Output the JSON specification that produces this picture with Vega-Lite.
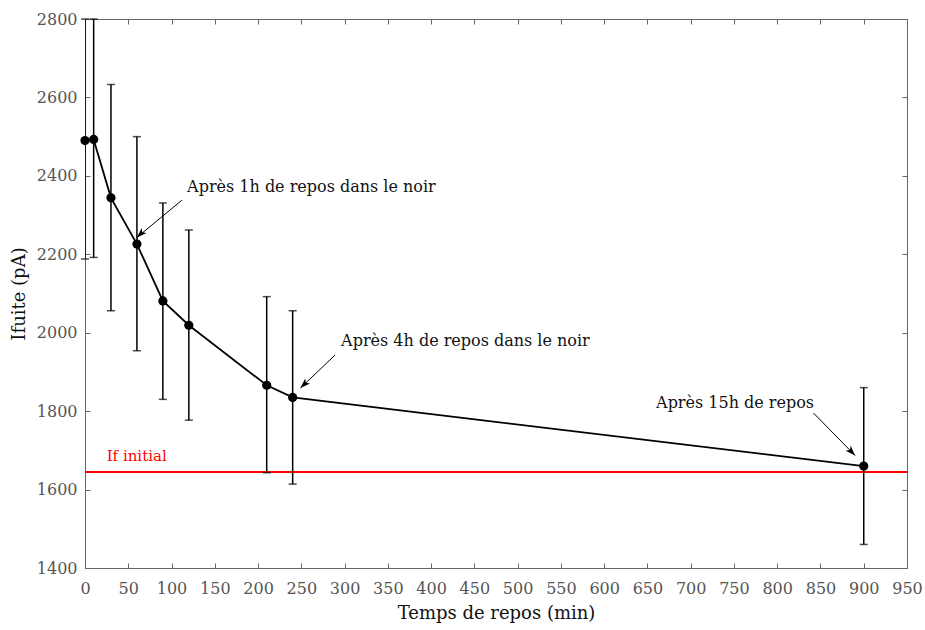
{
  "$schema": "https://vega.github.io/schema/vega-lite/v6.json",
  "width": 822,
  "height": 549,
  "autosize": {"type": "none"},
  "padding": {"left": 85, "top": 19, "right": 18, "bottom": 62},
  "background": "white",
  "config": {
    "view": {"stroke": "#666", "strokeWidth": 1},
    "font": "DejaVu Serif",
    "axis": {
      "grid": false,
      "domainColor": "#666",
      "tickColor": "#666",
      "tickSize": -5,
      "labelColor": "#555",
      "labelFontSize": 16,
      "labelFont": "DejaVu Serif",
      "labelFlush": false,
      "labelOverlap": false,
      "titleFont": "DejaVu Serif",
      "titleFontWeight": "normal",
      "titleColor": "#111",
      "titleFontSize": 18,
      "format": "d"
    }
  },
  "datasets": {
    "mesures": [
      {"t": 0, "i": 2490, "lo": 2188, "hi": 2800},
      {"t": 10, "i": 2493, "lo": 2192, "hi": 2800},
      {"t": 30, "i": 2344, "lo": 2056, "hi": 2633},
      {"t": 60, "i": 2226, "lo": 1954, "hi": 2500},
      {"t": 90, "i": 2081, "lo": 1830, "hi": 2331},
      {"t": 120, "i": 2019, "lo": 1777, "hi": 2262},
      {"t": 210, "i": 1866, "lo": 1643, "hi": 2092},
      {"t": 240, "i": 1835, "lo": 1614, "hi": 2056},
      {"t": 900, "i": 1660, "lo": 1460, "hi": 1860}
    ],
    "notes": [
      {"label": "Après 1h de repos dans le noir", "tx": 118, "ty": 2371, "x1": 112, "y1": 2338, "x2": 60, "y2": 2243, "dir": "sw"},
      {"label": "Après 4h de repos dans le noir", "tx": 296, "ty": 1979, "x1": 289, "y1": 1943, "x2": 249, "y2": 1859, "dir": "sw"},
      {"label": "Après 15h de repos", "tx": 660, "ty": 1820, "x1": 842, "y1": 1795, "x2": 890, "y2": 1687, "dir": "se"}
    ],
    "reference": [
      {"niveau": 1645, "label": "If initial", "lx": 25, "ly": 1685}
    ]
  },
  "resolve": {"axis": {"x": "independent", "y": "independent"}},
  "layer": [
    {
      "data": {"name": "reference"},
      "mark": {"type": "rule", "color": "#ff0000", "strokeWidth": 2},
      "encoding": {
        "y": {"field": "niveau", "type": "quantitative", "scale": {"domain": [1400, 2800], "nice": false, "zero": false},
          "axis": {"orient": "left", "values": [1400,1600,1800,2000,2200,2400,2600,2800], "title": "Ifuite (pA)", "labelPadding": 13, "titlePadding": 8}}
      }
    },
    {
      "data": {"name": "reference"},
      "mark": {"type": "text", "color": "#ff0000", "align": "left", "baseline": "middle", "fontSize": 15, "font": "DejaVu Serif"},
      "encoding": {
        "x": {"field": "lx", "type": "quantitative", "scale": {"domain": [0, 950], "nice": false, "zero": false},
          "axis": {"orient": "bottom", "values": [0,50,100,150,200,250,300,350,400,450,500,550,600,650,700,750,800,850,900,950], "title": "Temps de repos (min)", "labelPadding": 17, "titlePadding": 8}},
        "y": {"field": "ly", "type": "quantitative", "axis": null},
        "text": {"field": "label"}
      }
    },
    {
      "data": {"name": "mesures"},
      "mark": {"type": "rule", "color": "#000", "strokeWidth": 1.5, "clip": true},
      "encoding": {
        "x": {"field": "t", "type": "quantitative",
          "axis": {"orient": "top", "values": [0,50,100,150,200,250,300,350,400,450,500,550,600,650,700,750,800,850,900,950], "labels": false, "title": null, "domain": false}},
        "y": {"field": "lo", "type": "quantitative",
          "axis": {"orient": "right", "values": [1400,1600,1800,2000,2200,2400,2600,2800], "labels": false, "title": null, "domain": false}},
        "y2": {"field": "hi"}
      }
    },
    {
      "data": {"name": "mesures"},
      "mark": {"type": "tick", "orient": "horizontal", "color": "#000", "size": 8, "thickness": 1.5},
      "encoding": {
        "x": {"field": "t", "type": "quantitative", "axis": null},
        "y": {"field": "lo", "type": "quantitative", "axis": null}
      }
    },
    {
      "data": {"name": "mesures"},
      "mark": {"type": "tick", "orient": "horizontal", "color": "#000", "size": 8, "thickness": 1.5},
      "encoding": {
        "x": {"field": "t", "type": "quantitative", "axis": null},
        "y": {"field": "hi", "type": "quantitative", "axis": null}
      }
    },
    {
      "data": {"name": "mesures"},
      "mark": {"type": "line", "color": "#000", "strokeWidth": 1.8},
      "encoding": {
        "x": {"field": "t", "type": "quantitative", "axis": null},
        "y": {"field": "i", "type": "quantitative", "axis": null}
      }
    },
    {
      "data": {"name": "mesures"},
      "mark": {"type": "point", "filled": true, "color": "#000", "opacity": 1, "size": 85},
      "encoding": {
        "x": {"field": "t", "type": "quantitative", "axis": null},
        "y": {"field": "i", "type": "quantitative", "axis": null}
      }
    },
    {
      "data": {"name": "notes"},
      "mark": {"type": "rule", "color": "#000", "strokeWidth": 1},
      "encoding": {
        "x": {"field": "x1", "type": "quantitative", "axis": null},
        "y": {"field": "y1", "type": "quantitative", "axis": null},
        "x2": {"field": "x2"},
        "y2": {"field": "y2"}
      }
    },
    {
      "data": {"name": "notes"},
      "transform": [{"filter": "datum.dir === 'sw'"}],
      "mark": {"type": "point", "filled": true, "color": "#000", "opacity": 1, "size": 100, "angle": 226, "shape": "M0,0L-0.7,2L0,1.5L0.7,2Z"},
      "encoding": {
        "x": {"field": "x2", "type": "quantitative", "axis": null},
        "y": {"field": "y2", "type": "quantitative", "axis": null}
      }
    },
    {
      "data": {"name": "notes"},
      "transform": [{"filter": "datum.dir === 'se'"}],
      "mark": {"type": "point", "filled": true, "color": "#000", "opacity": 1, "size": 100, "angle": 136, "shape": "M0,0L-0.7,2L0,1.5L0.7,2Z"},
      "encoding": {
        "x": {"field": "x2", "type": "quantitative", "axis": null},
        "y": {"field": "y2", "type": "quantitative", "axis": null}
      }
    },
    {
      "data": {"name": "notes"},
      "mark": {"type": "text", "color": "#111", "align": "left", "baseline": "middle", "fontSize": 16, "font": "DejaVu Serif"},
      "encoding": {
        "x": {"field": "tx", "type": "quantitative", "axis": null},
        "y": {"field": "ty", "type": "quantitative", "axis": null},
        "text": {"field": "label"}
      }
    }
  ]
}
